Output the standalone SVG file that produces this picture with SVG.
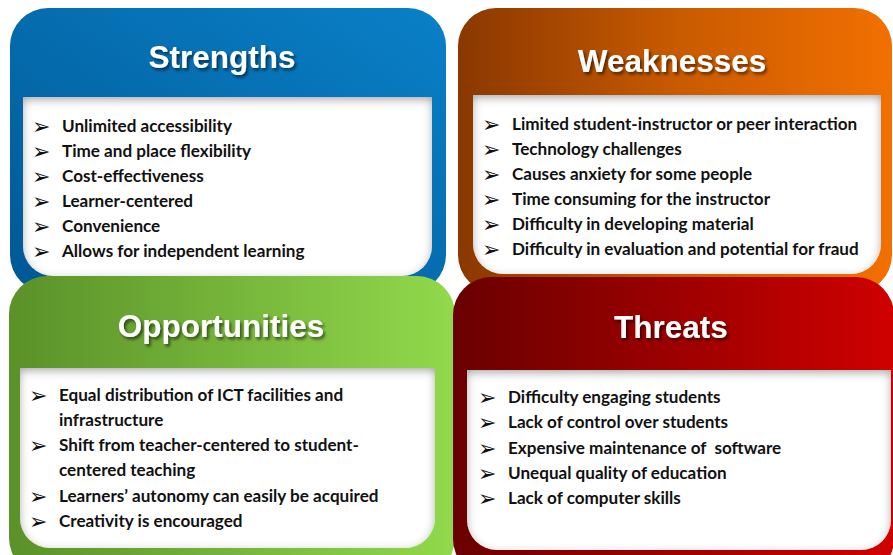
<svg xmlns="http://www.w3.org/2000/svg" width="893" height="555" viewBox="0 0 893 555">
  <defs>
    <linearGradient id="gBlue" x1="0" y1="1" x2="1" y2="0">
      <stop offset="0" stop-color="#005894"/>
      <stop offset="1" stop-color="#0a80c8"/>
    </linearGradient>
    <linearGradient id="gOrange" x1="0" y1="0" x2="1" y2="0">
      <stop offset="0" stop-color="#8a3800"/>
      <stop offset="0.5" stop-color="#c85a00"/>
      <stop offset="1" stop-color="#f27000"/>
    </linearGradient>
    <linearGradient id="gGreen" x1="0" y1="0" x2="1" y2="0">
      <stop offset="0" stop-color="#5a9129"/>
      <stop offset="1" stop-color="#92d94c"/>
    </linearGradient>
    <linearGradient id="gRed" x1="0" y1="0" x2="1" y2="0">
      <stop offset="0" stop-color="#6a0000"/>
      <stop offset="1" stop-color="#cf0000"/>
    </linearGradient>
    <!-- soft inner shading on the white list boxes -->
    <filter id="inset" x="-5%" y="-5%" width="110%" height="110%">
      <feGaussianBlur in="SourceAlpha" stdDeviation="5" result="blur"/>
      <feOffset in="blur" dy="3" result="blurOff"/>
      <feComposite in="SourceAlpha" in2="blurOff" operator="arithmetic" k2="1" k3="-1" result="edge"/>
      <feFlood flood-color="#000" flood-opacity="0.65"/>
      <feComposite in2="edge" operator="in" result="shadow"/>
      <feMerge>
        <feMergeNode in="SourceGraphic"/>
        <feMergeNode in="shadow"/>
      </feMerge>
    </filter>
    <filter id="titleShadow" x="-10%" y="-20%" width="120%" height="150%">
      <feDropShadow dx="2" dy="2.5" stdDeviation="1.5" flood-color="#000" flood-opacity="0.55"/>
    </filter>
  </defs>
  <style>
    .title { font-family: "Liberation Sans", Arial, sans-serif; font-weight: bold; font-size: 31.5px; fill: #ffffff; text-anchor: middle; }
    .item { font-family: Lato, "Liberation Sans", sans-serif; font-weight: bold; font-size: 17.1px; fill: #111111; white-space: pre; }
    .bullet { font-family: "DejaVu Sans", sans-serif; font-size: 22px; fill: #111111; }
    .box { fill: #ffffff; }
  </style>

  <!-- Strengths -->
  <g id="strengths">
    <rect x="10" y="8" width="436" height="285" rx="38" fill="url(#gBlue)"/>
    <path class="box" filter="url(#inset)" d="M23 97 H432 V246 A30 30 0 0 1 402 276 H53 A30 30 0 0 1 23 246 Z"/>
    <text class="title" x="222" y="68" filter="url(#titleShadow)">Strengths</text>
    <g class="bullet">
      <text x="32" y="134">➢</text><text x="32" y="159">➢</text><text x="32" y="184">➢</text>
      <text x="32" y="209">➢</text><text x="32" y="234">➢</text><text x="32" y="259">➢</text>
    </g>
    <text class="item" x="62" y="132">Unlimited accessibility</text>
    <text class="item" x="62" y="157">Time and place flexibility</text>
    <text class="item" x="62" y="182">Cost-effectiveness</text>
    <text class="item" x="62" y="207">Learner-centered</text>
    <text class="item" x="62" y="232">Convenience</text>
    <text class="item" x="62" y="257">Allows for independent learning</text>
  </g>

  <!-- Weaknesses -->
  <g id="weaknesses">
    <rect x="458" y="8" width="434" height="285" rx="38" fill="url(#gOrange)"/>
    <path class="box" filter="url(#inset)" d="M473 95 H881 V244 A30 30 0 0 1 851 274 H503 A30 30 0 0 1 473 244 Z"/>
    <text class="title" x="672" y="72" filter="url(#titleShadow)">Weaknesses</text>
    <g class="bullet">
      <text x="482" y="132">➢</text><text x="482" y="157">➢</text><text x="482" y="182">➢</text>
      <text x="482" y="207">➢</text><text x="482" y="232">➢</text><text x="482" y="257">➢</text>
    </g>
    <text class="item" x="512" y="130">Limited student-instructor or peer interaction</text>
    <text class="item" x="512" y="155">Technology challenges</text>
    <text class="item" x="512" y="180">Causes anxiety for some people</text>
    <text class="item" x="512" y="205">Time consuming for the instructor</text>
    <text class="item" x="512" y="230">Difficulty in developing material</text>
    <text class="item" x="512" y="255">Difficulty in evaluation and potential for fraud</text>
  </g>

  <!-- Opportunities -->
  <g id="opportunities">
    <rect x="9" y="276" width="446" height="300" rx="38" fill="url(#gGreen)"/>
    <path class="box" filter="url(#inset)" d="M20 368 H435 V518 A30 30 0 0 1 405 548 H50 A30 30 0 0 1 20 518 Z"/>
    <text class="title" x="221" y="337" filter="url(#titleShadow)">Opportunities</text>
    <g class="bullet">
      <text x="29" y="403">➢</text><text x="29" y="453">➢</text>
      <text x="29" y="504">➢</text><text x="29" y="529">➢</text>
    </g>
    <text class="item" x="59" y="401">Equal distribution of ICT facilities and</text>
    <text class="item" x="59" y="426">infrastructure</text>
    <text class="item" x="59" y="451">Shift from teacher-centered to student-</text>
    <text class="item" x="59" y="476">centered teaching</text>
    <text class="item" x="59" y="502">Learners’ autonomy can easily be acquired</text>
    <text class="item" x="59" y="527">Creativity is encouraged</text>
  </g>

  <!-- Threats -->
  <g id="threats">
    <rect x="453" y="277" width="441" height="300" rx="38" fill="url(#gRed)"/>
    <path class="box" filter="url(#inset)" d="M467 370 H891 V520 A30 30 0 0 1 861 550 H497 A30 30 0 0 1 467 520 Z"/>
    <text class="title" x="671" y="338" filter="url(#titleShadow)">Threats</text>
    <g class="bullet">
      <text x="478" y="405">➢</text><text x="478" y="430">➢</text><text x="478" y="456">➢</text>
      <text x="478" y="481">➢</text><text x="478" y="506">➢</text>
    </g>
    <text class="item" x="508" y="403">Difficulty engaging students</text>
    <text class="item" x="508" y="428">Lack of control over students</text>
    <text class="item" x="508" y="454">Expensive maintenance of  software</text>
    <text class="item" x="508" y="479">Unequal quality of education</text>
    <text class="item" x="508" y="504">Lack of computer skills</text>
  </g>
</svg>
